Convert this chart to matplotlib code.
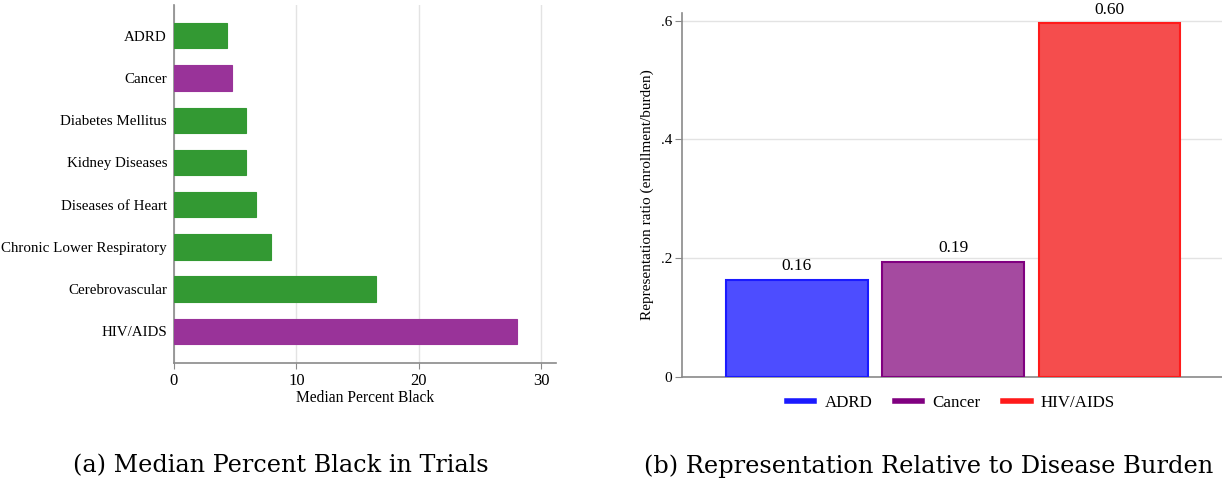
import matplotlib
matplotlib.use('Agg')
import matplotlib.pyplot as plt
from matplotlib.lines import Line2D

# Panel (a): median percent Black in trials
conditions = ['ADRD', 'Cancer', 'Diabetes Mellitus', 'Kidney Diseases',
              'Diseases of Heart', 'Chronic Lower Respiratory',
              'Cerebrovascular', 'HIV/AIDS']
median_black = [4.3, 4.7, 5.9, 5.9, 6.7, 7.9, 16.5, 28.0]
highlighted = ['Cancer', 'HIV/AIDS']
xticks_a = [0, 10, 20, 30]

# Panel (b): representation ratio (enrollment/burden)
groups = ['ADRD', 'Cancer', 'HIV/AIDS']
ratio = [0.163, 0.194, 0.596]
yticks_b = [0, 0.2, 0.4, 0.6]
ytick_labels_b = ['0', '.2', '.4', '.6']

plt.rcParams['font.family'] = ['Liberation Serif', 'DejaVu Serif']

green = '#339933'
purple = '#993399'
axis_gray = '#8a8a8a'
grid_gray = '#e3e3e3'

fig = plt.figure(figsize=(12.22, 4.82), dpi=100)

# ---- left panel ----
ax1 = fig.add_axes([174 / 1222, 119 / 482, 382 / 1222, 358 / 482])
pos = list(range(len(conditions)))
colors = [purple if c in highlighted else green for c in conditions]
ax1.barh(pos, median_black, height=0.6, color=colors, edgecolor=colors,
         linewidth=0.8, zorder=3)
ax1.set_ylim(7.75, -0.73)
ax1.set_xlim(0, 31.2)
ax1.set_yticks(pos)
ax1.set_yticklabels(conditions, fontsize=10.8)
ax1.set_xticks(xticks_a)
ax1.tick_params(axis='x', labelsize=12, length=4, color=axis_gray, pad=3)
ax1.tick_params(axis='y', length=0, pad=5)
ax1.xaxis.grid(True, color=grid_gray, lw=1, zorder=0)
ax1.set_xlabel('Median Percent Black', fontsize=11.2, labelpad=1)
for s in ['top', 'right']:
    ax1.spines[s].set_visible(False)
for s in ['left', 'bottom']:
    ax1.spines[s].set_color(axis_gray)
    ax1.spines[s].set_linewidth(1.2)

# ---- right panel ----
ax2 = fig.add_axes([682 / 1222, 105.3 / 482, 540 / 1222, 363.7 / 482])
fills = ['#4d4dff', '#a54aa0', '#f54d4d']
edges = ['#1a1aff', '#800080', '#ff1a1a']
xpos = list(range(len(groups)))
ax2.bar(xpos, ratio, width=0.904, color=fills, edgecolor=edges,
        linewidth=1.5, zorder=3)
for x, v in zip(xpos, ratio):
    ax2.annotate(f'{v:.2f}', (x, v), xytext=(0, 4), textcoords='offset points',
                 ha='center', va='bottom', fontsize=12.5, clip_on=False)
ax2.set_xlim(-0.737, 2.724)
ax2.set_ylim(0, 0.613)
ax2.set_yticks(yticks_b)
ax2.set_yticklabels(ytick_labels_b, fontsize=11)
ax2.set_xticks([])
ax2.tick_params(axis='y', length=5, color=axis_gray, pad=2)
ax2.yaxis.grid(True, color=grid_gray, lw=1, zorder=0)
ax2.set_ylabel('Representation ratio (enrollment/burden)', fontsize=11,
               labelpad=5)
for s in ['top', 'right']:
    ax2.spines[s].set_visible(False)
for s in ['left', 'bottom']:
    ax2.spines[s].set_color(axis_gray)
    ax2.spines[s].set_linewidth(1.2)

handles = [Line2D([0], [0], color=e, lw=4) for e in edges]
fig.legend(handles, groups, loc='center', bbox_to_anchor=(951 / 1222, 1 - 403 / 482),
           ncol=3, frameon=False, fontsize=12.2, handlelength=1.6,
           handletextpad=0.6, columnspacing=1.35)

# captions
fig.text(281 / 1222, 1 - 466 / 482, '(a) Median Percent Black in Trials',
         ha='center', va='center', fontsize=17.2, family='DejaVu Serif')
fig.text(929 / 1222, 1 - 466 / 482, '(b) Representation Relative to Disease Burden',
         ha='center', va='center', fontsize=17.4, family='DejaVu Serif')

fig.savefig('out.png', dpi=100)
